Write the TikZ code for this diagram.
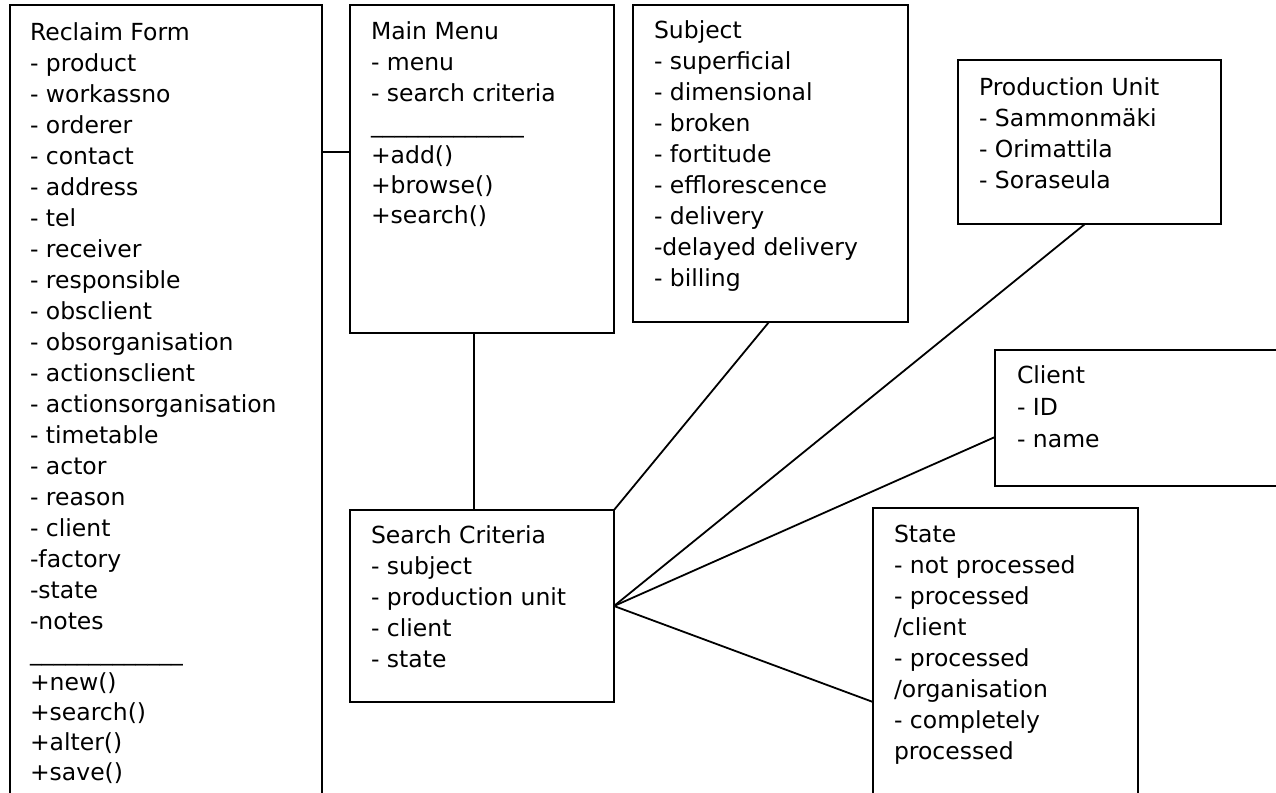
\documentclass[tikz,border=0pt]{standalone}
\usepackage{fontspec}
\setmainfont{DejaVu Sans}
\begin{document}
\begin{tikzpicture}[x=1pt,y=-1pt,
  umlbox/.style={draw=black,line width=1.8pt,rectangle,inner sep=0pt,outer sep=0pt,anchor=north west,fill=none},
  txt/.style={anchor=base west,inner sep=0pt,outer sep=0pt,align=left,text=black,font=\fontsize{23.5}{31}\selectfont},
  txtb/.style={txt,font=\fontsize{23.5}{30}\selectfont},
  link/.style={draw=black,line width=1.8pt}]
\useasboundingbox[fill=white] (0,0) rectangle (1276,792);
% boxes
\node[umlbox,minimum width=312pt,minimum height=820pt] (rf) at (10,5) {};
\node[umlbox,minimum width=264pt,minimum height=328pt] (mm) at (350,5) {};
\node[umlbox,minimum width=275pt,minimum height=317pt] (subj) at (633,5) {};
\node[umlbox,minimum width=263pt,minimum height=164pt] (pu) at (958,60) {};
\node[umlbox,minimum width=320pt,minimum height=136pt] (cl) at (995,350) {};
\node[umlbox,minimum width=265pt,minimum height=320pt] (st) at (873,508) {};
\node[umlbox,minimum width=264pt,minimum height=192pt] (sc) at (350,510) {};
% texts (anchored at the baseline of their last line)
\node[txt] (rft) at (30,629) {Reclaim Form\\- product\\- workassno\\- orderer\\- contact\\- address\\- tel\\- receiver\\- responsible\\- obsclient\\- obsorganisation\\- actionsclient\\- actionsorganisation\\- timetable\\- actor\\- reason\\- client\\-factory\\-state\\-notes};
\node[txt] (rfsep) at (30,660) {\_\_\_\_\_\_\_\_\_\_\_\_\_};
\node[txtb] (rfops) at (30,780) {+new()\\+search()\\+alter()\\+save()};
\node[txt] (mmt) at (371,101) {Main Menu\\- menu\\- search criteria};
\node[txt] (mmsep) at (371,132) {\_\_\_\_\_\_\_\_\_\_\_\_\_};
\node[txtb] (mmops) at (371,223) {+add()\\+browse()\\+search()};
\node[txt] (subjt) at (654,286) {Subject\\- superficial\\- dimensional\\- broken\\- fortitude\\- efflorescence\\- delivery\\-delayed delivery\\- billing};
\node[txt] (put) at (979,188) {Production Unit\\- Sammonmäki\\- Orimattila\\- Soraseula};
\node[txt,font=\fontsize{23.5}{32}\selectfont] (clt) at (1017,447) {Client\\- ID\\- name};
\node[txt] (stt) at (894,759) {State\\- not processed\\- processed\\/client\\- processed\\/organisation\\- completely\\processed};
\node[txt] (sct) at (371,667) {Search Criteria\\- subject\\- production unit\\- client\\- state};
% anchor coordinates
\coordinate (rfmmy) at (0,152);
\coordinate (mmscx) at (474,0);
\coordinate (subjx) at (769,0);
\coordinate (pux) at (1085,0);
\coordinate (cly) at (0,437);
\coordinate (sty) at (0,702);
% connectors
\draw[link] (rf.east |- rfmmy) -- (mm.west |- rfmmy);
\draw[link] (mm.south -| mmscx) -- (sc.north -| mmscx);
\draw[link] (sc.north east) -- (subj.south -| subjx);
\draw[link] (sc.east) -- (pu.south -| pux);
\draw[link] (sc.east) -- (cl.west |- cly);
\draw[link] (sc.east) -- (st.west |- sty);
\end{tikzpicture}
\end{document}
